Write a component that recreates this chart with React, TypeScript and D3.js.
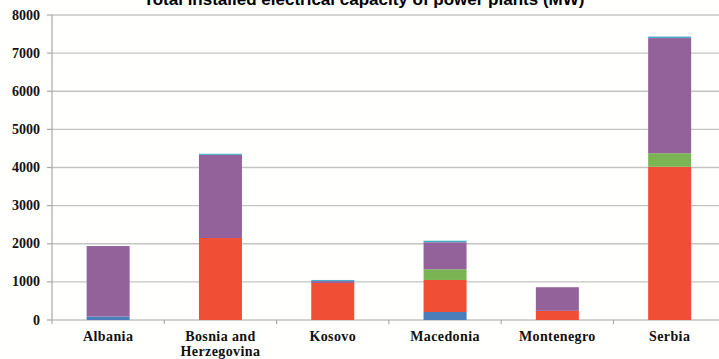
import React from "react";
import * as d3 from "d3";

const categories = ["Albania", "Bosnia and Herzegovina", "Kosovo", "Macedonia", "Montenegro", "Serbia"];
const seriesNames = ["Blue", "Red", "Green", "Purple", "LightBlue"];
const blueVals = [90, 0, 0, 210, 0, 0];
const redVals = [0, 2150, 970, 840, 240, 4020];
const greenVals = [0, 0, 0, 280, 0, 355];
const purpleVals = [1850, 2180, 50, 710, 620, 3020];
const lightBlueVals = [0, 30, 30, 40, 0, 40];
const yTicks = [0, 1000, 2000, 3000, 4000, 5000, 6000, 7000, 8000];
const colors = ["#4a7ebb", "#f04f36", "#7bb553", "#94629b", "#49acc6"];
const title = "Total installed electrical capacity of power plants (MW)";

const W = 719, H = 359;
const x0 = 52, y0 = 320, yTop = 15;
const serif = "'Liberation Serif', 'Times New Roman', serif";

export default function App() {
  const series = [blueVals, redVals, greenVals, purpleVals, lightBlueVals];
  const rows = categories.map((c, i) => {
    const r: any = { cat: c };
    seriesNames.forEach((s, k) => (r[s] = series[k][i]));
    return r;
  });
  const stacked = d3.stack().keys(seriesNames)(rows);
  const x = d3.scaleBand().domain(categories).range([x0, x0 + 6 * 112.3]);
  const y = d3.scaleLinear().domain([0, 8000]).range([y0, yTop]);
  const bw = 43;
  const bounds = d3.range(categories.length + 1).map((i) => x0 + i * x.step());
  return (
    <svg width={W} height={H} style={{ position: "absolute", left: 0, top: 0, background: "#fff" }}>
      <rect x={0} y={0} width={W} height={H} fill="#fffffd" />
      <text x={364} y={5} textAnchor="middle" fontFamily="'Liberation Sans', Arial, sans-serif" fontWeight="bold" fontSize={17} fill="#000">
        {title}
      </text>
      {yTicks.map((t) => (
        <g key={t}>
          {t > 0 && <line x1={x0} x2={W} y1={y(t)} y2={y(t)} stroke="#c4c4c4" strokeWidth={1.3} />}
          <line x1={x0 - 5} x2={x0} y1={y(t)} y2={y(t)} stroke="#a8a8a8" strokeWidth={1.2} />
          <text x={40} y={y(t) + 4.5} textAnchor="end" fontFamily={serif} fontWeight="bold" fontSize={14} fill="#111">
            {t}
          </text>
        </g>
      ))}
      <line x1={x0} x2={x0} y1={yTop} y2={y0} stroke="#a8a8a8" strokeWidth={1.2} />
      <line x1={x0} x2={W} y1={y0} y2={y0} stroke="#a8a8a8" strokeWidth={1.2} />
      {bounds.map((b, i) => (
        <line key={i} x1={b} x2={b} y1={y0} y2={y0 + 4} stroke="#a8a8a8" strokeWidth={1.2} />
      ))}
      {stacked.map((s, k) => (
        <g key={k} fill={colors[k]}>
          {s.map((d, i) => {
            const h = y(d[0]) - y(d[1]);
            if (h <= 0) return null;
            const cx = (x(categories[i]) as number) + x.bandwidth() / 2;
            return <rect key={i} x={cx - bw / 2} y={y(d[1])} width={bw} height={h} />;
          })}
        </g>
      ))}
      {categories.map((c) => {
        const cx = (x(c) as number) + x.bandwidth() / 2;
        const lines = c === "Bosnia and Herzegovina" ? ["Bosnia and", "Herzegovina"] : [c];
        return (
          <text key={c} x={cx} textAnchor="middle" fontFamily={serif} fontWeight="bold" fontSize={14} letterSpacing={0.4} fill="#111">
            {lines.map((l, j) => (
              <tspan key={j} x={cx} y={341 + j * 15}>
                {l}
              </tspan>
            ))}
          </text>
        );
      })}
    </svg>
  );
}
